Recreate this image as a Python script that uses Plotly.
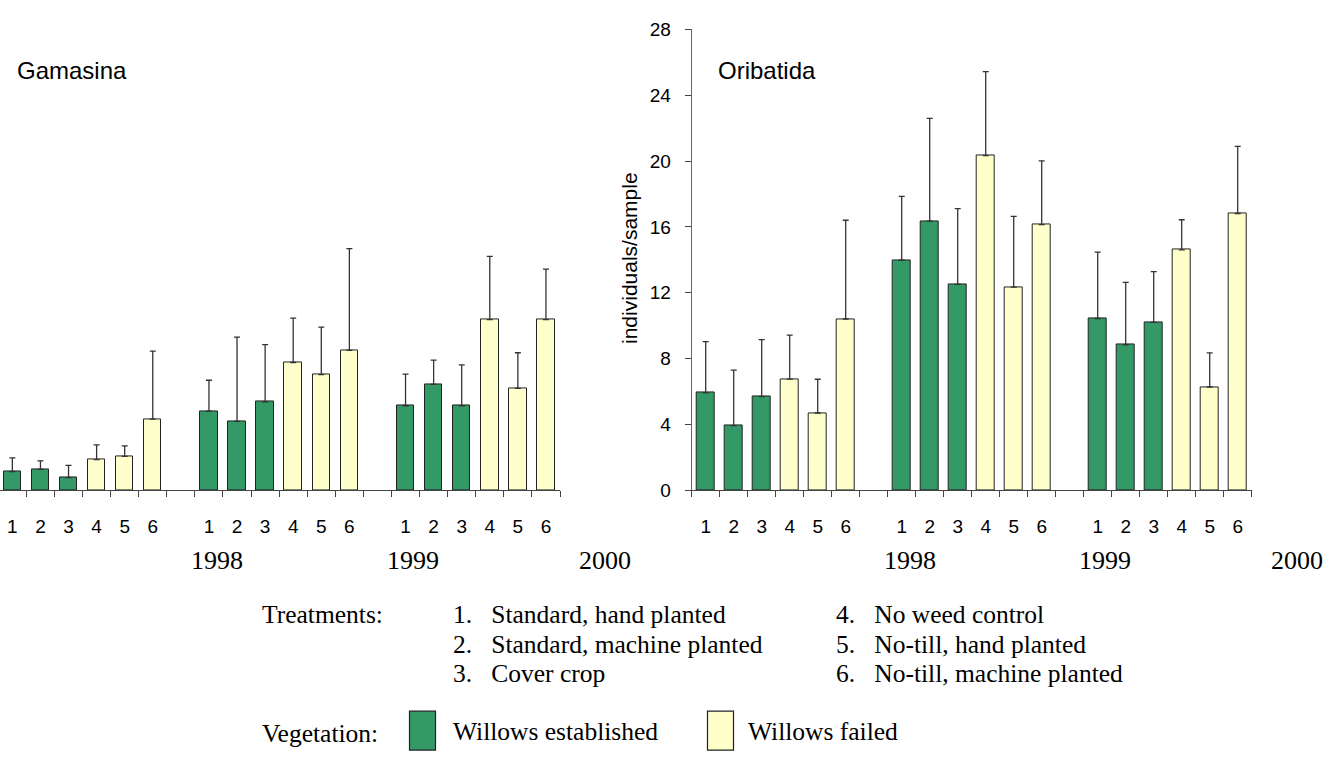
import plotly.graph_objects as go

W, H = 1335, 762

treat_labels = ["1", "2", "3", "4", "5", "6"]
years = ["1998", "1999", "2000"]
status = ["est", "est", "est", "fail", "fail", "fail"]  # per treatment

# Gamasina (left panel), 3 sampling groups x 6 treatments
gam_mean = [1.14, 1.28, 0.77, 1.87, 2.07, 4.33,
            4.82, 4.19, 5.38, 7.77, 7.03, 8.51,
            5.14, 6.44, 5.14, 10.37, 6.20, 10.37]
gam_se = [0.83, 0.51, 0.75, 0.89, 0.63, 4.13,
          1.87, 5.12, 3.48, 2.70, 2.89, 6.17,
          1.92, 1.47, 2.48, 3.84, 2.16, 3.07]

# Oribatida (right panel)
ori_mean = [5.92, 3.94, 5.70, 6.76, 4.70, 10.41,
            13.98, 16.36, 12.52, 20.34, 12.35, 16.14,
            10.44, 8.84, 10.20, 14.61, 6.28, 16.82]
ori_se = [3.12, 3.37, 3.46, 2.67, 2.05, 6.00,
          3.88, 6.24, 4.59, 5.10, 4.29, 3.88,
          4.03, 3.80, 3.09, 1.83, 2.07, 4.08]

y_ticks = [0, 4, 8, 12, 16, 20, 24, 28]

SP = "\u00a0\u00a0\u00a0"
treatments_col1 = ["1." + SP + "Standard, hand planted",
                   "2." + SP + "Standard, machine planted",
                   "3." + SP + "Cover crop"]
treatments_col2 = ["4." + SP + "No weed control",
                   "5." + SP + "No-till, hand planted",
                   "6." + SP + "No-till, machine planted"]
veg_labels = ["Willows established", "Willows failed"]

GREEN = "#339966"
YELLOW = "#FFFFCC"
SANS = "Liberation Sans, Arial, sans-serif"
SERIF = "Liberation Serif, Times New Roman, serif"

n_groups = 3
xs, cols = [], []
for g in range(n_groups):
    for t in range(len(treat_labels)):
        xs.append(g * 7 + t)
        cols.append(GREEN if status[t] == "est" else YELLOW)

fig = go.Figure()
for means, ses, xa, ya in [(gam_mean, gam_se, "x", "y"), (ori_mean, ori_se, "x2", "y2")]:
    fig.add_trace(go.Bar(
        x=xs, y=means, width=0.62, xaxis=xa, yaxis=ya,
        marker=dict(color=cols, line=dict(color="#222222", width=1)),
        error_y=dict(type="data", symmetric=False, array=ses,
                     arrayminus=[0] * len(ses), color="#333333",
                     thickness=1.3, width=3),
        showlegend=False, hoverinfo="skip"))

ydom = [(H - 494) / H, (H - 20) / H]
tickpos = xs
ticktext = treat_labels * n_groups
bounds_left = [k + 0.5 for k in range(20)]
bounds_right = [k - 0.5 for k in range(21)]

LEFT_DOM = [0, 560 / W]
LEFT_RNG = [-0.44, 19.5]
RIGHT_DOM = [691.7 / W, 1251.7 / W]
RIGHT_RNG = [-0.5, 19.5]


def xaxis_cfg(dom, rng, bounds):
    return dict(domain=dom, range=rng, showline=True, linecolor="#444444",
                linewidth=1, tickmode="array", tickvals=tickpos, ticktext=ticktext,
                ticks="", ticklabelstandoff=19, showgrid=False, zeroline=False,
                tickfont=dict(family=SANS, size=19, color="black"),
                minor=dict(tickmode="array", tickvals=bounds, ticks="outside",
                           ticklen=6, tickcolor="#444444", tickwidth=1, showgrid=False))


fig.update_layout(
    width=W, height=H, margin=dict(l=0, r=0, t=0, b=0),
    paper_bgcolor="white", plot_bgcolor="white", bargap=0,
    xaxis=xaxis_cfg(LEFT_DOM, LEFT_RNG, bounds_left),
    yaxis=dict(domain=ydom, range=[0, 28], visible=False),
    xaxis2=xaxis_cfg(RIGHT_DOM, RIGHT_RNG, bounds_right),
    yaxis2=dict(domain=ydom, range=[0, 28], anchor="x2", tickmode="array",
                tickvals=y_ticks, ticks="outside", ticklen=6, tickcolor="#444444",
                showline=True, linecolor="#666666", linewidth=1, showgrid=False,
                zeroline=False, ticklabelstandoff=10,
                tickfont=dict(family=SANS, size=19, color="black")),
)
fig.layout.xaxis2.anchor = "y2"
fig.layout.xaxis.anchor = "y"


def to_paper(xv, dom, rng):
    return dom[0] + (xv - rng[0]) / (rng[1] - rng[0]) * (dom[1] - dom[0])


ann = []
# year labels (one per group boundary; may fall beyond the axis end)
year_off = [0.3, 0.25, 0.1]
for dom, rng in [(LEFT_DOM, LEFT_RNG), (RIGHT_DOM, RIGHT_RNG)]:
    for i, yr in enumerate(years):
        ann.append(dict(x=to_paper((i + 1) * 7 + year_off[i], dom, rng), xref="paper",
                        y=(H - 566) / H, yref="paper",
                        text=yr, showarrow=False, xanchor="center", yanchor="middle",
                        font=dict(family=SERIF, size=26, color="black")))
# panel titles
ann.append(dict(x=15 / W, y=(H - 62) / H, xref="paper", yref="paper", text="Gamasina",
                showarrow=False, xanchor="left", yanchor="middle",
                font=dict(family=SANS, size=24, color="black")))
ann.append(dict(x=716 / W, y=(H - 62) / H, xref="paper", yref="paper", text="Oribatida",
                showarrow=False, xanchor="left", yanchor="middle",
                font=dict(family=SANS, size=24, color="black")))
# y axis title
ann.append(dict(x=630 / W, y=(H - 255) / H, xref="paper", yref="paper",
                text="individuals/sample", textangle=-90, showarrow=False,
                xanchor="center", yanchor="middle",
                font=dict(family=SANS, size=21, color="black")))
# treatments legend
LF = 25.5
ann.append(dict(x=260 / W, y=(H - 622) / H, xref="paper", yref="paper", text="Treatments:",
                showarrow=False, xanchor="left", yanchor="middle",
                font=dict(family=SERIF, size=LF, color="black")))
for i, txt in enumerate(treatments_col1):
    ann.append(dict(x=451 / W, y=(H - (622 + 30 * i)) / H, xref="paper", yref="paper",
                    text=txt, showarrow=False, xanchor="left", yanchor="middle",
                    font=dict(family=SERIF, size=LF, color="black")))
for i, txt in enumerate(treatments_col2):
    ann.append(dict(x=834 / W, y=(H - (622 + 30 * i)) / H, xref="paper", yref="paper",
                    text=txt, showarrow=False, xanchor="left", yanchor="middle",
                    font=dict(family=SERIF, size=LF, color="black")))
# vegetation legend
ann.append(dict(x=260 / W, y=(H - 744) / H, xref="paper", yref="paper", text="Vegetation:",
                showarrow=False, xanchor="left", yanchor="middle",
                font=dict(family=SERIF, size=LF, color="black")))
shapes = []
for (bx0, tx), lab, c in zip([(409.5, 451), (707.5, 746)], veg_labels, [GREEN, YELLOW]):
    shapes.append(dict(type="rect", xref="paper", yref="paper",
                       x0=bx0 / W, x1=(bx0 + 26) / W, y0=(H - 761) / H, y1=(H - 721) / H,
                       fillcolor=c, line=dict(color="#222222", width=1.2)))
    ann.append(dict(x=tx / W, y=(H - 742) / H, xref="paper", yref="paper", text=lab,
                    showarrow=False, xanchor="left", yanchor="middle",
                    font=dict(family=SERIF, size=LF, color="black")))

fig.update_layout(annotations=ann, shapes=shapes)
fig.write_html("out.html")
